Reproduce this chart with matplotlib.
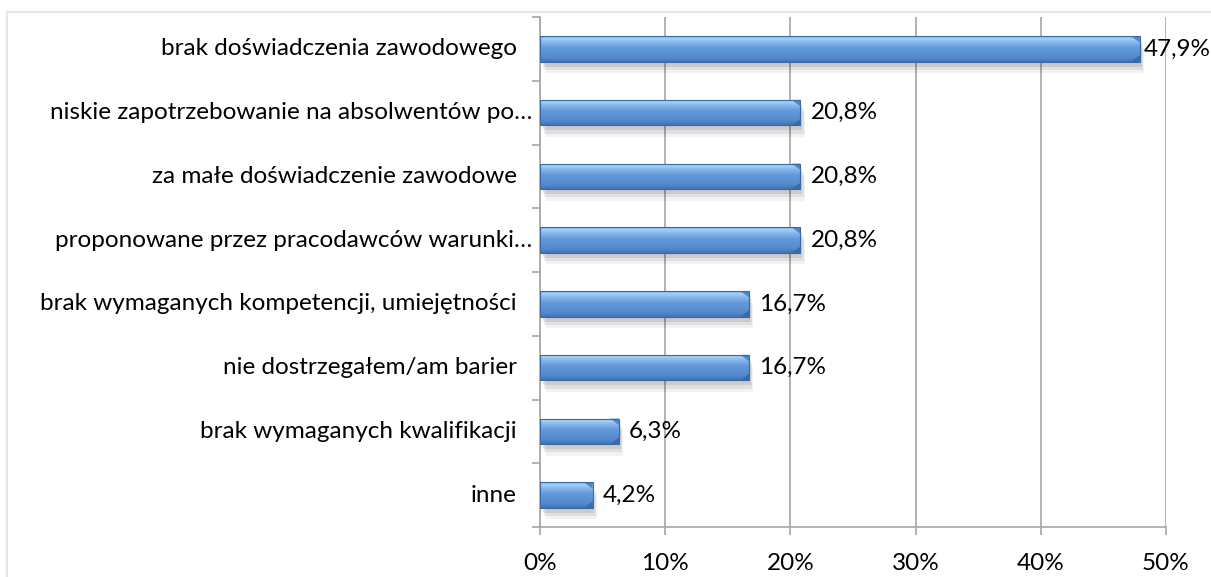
import matplotlib.pyplot as plt
import numpy as np
from matplotlib.colors import LinearSegmentedColormap
from matplotlib.patches import Rectangle, Polygon

plt.rcParams['font.family'] = ['Lato', 'DejaVu Sans']

categories = [
    'brak doświadczenia zawodowego',
    'niskie zapotrzebowanie na absolwentów po…',
    'za małe doświadczenie zawodowe',
    'proponowane przez pracodawców warunki…',
    'brak wymaganych kompetencji, umiejętności',
    'nie dostrzegałem/am barier',
    'brak wymaganych kwalifikacji',
    'inne',
]
values = [47.9, 20.8, 20.8, 20.8, 16.7, 16.7, 6.3, 4.2]
value_labels = ['47,9%', '20,8%', '20,8%', '20,8%', '16,7%', '16,7%', '6,3%', '4,2%']
xticks = [0, 10, 20, 30, 40, 50]
xtick_labels = ['0%', '10%', '20%', '30%', '40%', '50%']

fig = plt.figure(figsize=(12.11, 5.77), dpi=100)
# ramka wykresu (prawa i dolna krawedz poza obrazem)
fig.patches.append(Rectangle((7 / 1211, -0.05), 1.1, 1 - 12 / 577 + 0.05,
                             transform=fig.transFigure, fill=False,
                             edgecolor='#e6e6e6', linewidth=1.5))
ax = fig.add_axes([540 / 1211, 1 - 527 / 577, 626 / 1211, 510 / 577])

n = len(categories)
ypos = np.arange(n)[::-1]
h = 0.4

cmap = LinearSegmentedColormap.from_list('bar', [
    (0.0, '#4173b2'), (0.15, '#5189cc'), (0.55, '#629bdc'),
    (0.8, '#8bbcee'), (0.9, '#a9d1f5'), (1.0, '#80b0e4')])
grad = np.linspace(0, 1, 64).reshape(-1, 1)

for y, v in zip(ypos, values):
    # cien pod slupkiem
    for k, a in enumerate([0.05, 0.07, 0.09]):
        d = 0.05 * (3 - k)
        ax.add_patch(Rectangle((0.15 + d * 2, y - h / 2 - 0.03 - d), v - 0.1, h,
                               facecolor='#000000', alpha=a, edgecolor='none', zorder=2))
    rect = Rectangle((0, y - h / 2), v, h, facecolor='none',
                     edgecolor='#3b69a3', linewidth=0.8, zorder=5)
    ax.add_patch(rect)
    im = ax.imshow(grad, cmap=cmap, aspect='auto', origin='lower',
                   extent=(0, v, y - h / 2, y + h / 2), zorder=3)
    im.set_clip_path(rect)
    # skos na koncu slupka
    b = 0.7
    ax.add_patch(Polygon([(v - b, y + h / 2), (v, y + h / 2 - 0.1), (v, y + h / 2)],
                         facecolor='#4f86c6', edgecolor='none', zorder=4))
    ax.add_patch(Polygon([(v - b, y - h / 2), (v, y - h / 2 + 0.1), (v, y - h / 2)],
                         facecolor='#3a6aa8', edgecolor='none', zorder=4))

for y, v, lab in zip(ypos, values, value_labels):
    off = 4 if v == max(values) else 10
    ax.annotate(lab, (v, y), xytext=(off, 0), textcoords='offset pixels',
                va='center', ha='left', fontsize=17.5, color='#000000', zorder=6)

# etykiety kategorii (obciete etykiety blizej osi, jak w Excelu)
for y, cat in zip(ypos, categories):
    pad = 8 if cat.endswith('…') else 23
    ax.annotate(cat, (0, y), xytext=(-pad, 0), textcoords='offset pixels',
                va='center', ha='right', fontsize=17.5, color='#000000',
                annotation_clip=False)

ax.set_xlim(0, 50)
ax.set_ylim(-0.5, n - 0.5)
ax.set_xticks(xticks)
ax.set_xticklabels(xtick_labels, fontsize=17.5)
ax.set_yticks([])
ax.set_yticks(np.arange(-0.5, n, 1), minor=True)
ax.tick_params(axis='y', which='minor', length=6, color='#a6a6a6', width=1.2)
ax.tick_params(axis='x', length=6, color='#a6a6a6', width=1.2, pad=13)
ax.grid(axis='x', color='#a6a6a6', linewidth=1.2)
ax.set_axisbelow(True)
for s in ['top', 'right']:
    ax.spines[s].set_visible(False)
ax.spines['left'].set_color('#a6a6a6')
ax.spines['bottom'].set_color('#a6a6a6')
ax.spines['left'].set_linewidth(1.2)
ax.spines['bottom'].set_linewidth(1.2)

fig.savefig('out.png', dpi=100)
